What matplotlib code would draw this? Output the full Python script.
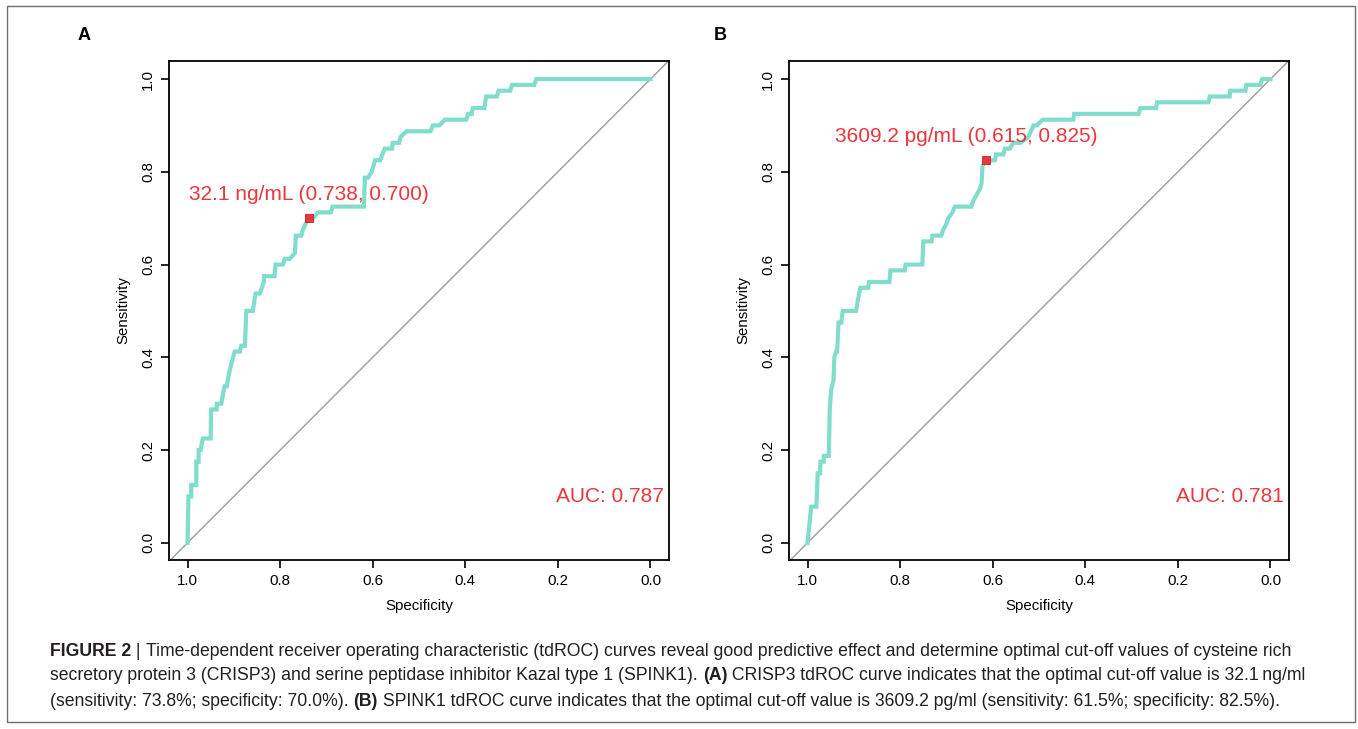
import matplotlib
matplotlib.use('Agg')
import matplotlib.pyplot as plt
from matplotlib.patches import Rectangle

plt.rcParams['font.family'] = ['Liberation Sans', 'DejaVu Sans']

# ---- data ----
# panel A: CRISP3 tdROC (specificity, sensitivity)
spec_a = [1.0, 0.998, 0.992, 0.992, 0.981, 0.981, 0.976, 0.976, 0.972, 0.967,
          0.950, 0.949, 0.937, 0.937, 0.927, 0.920, 0.915, 0.911, 0.905, 0.898,
          0.887, 0.884, 0.876, 0.873, 0.859, 0.853, 0.844, 0.835, 0.835, 0.812,
          0.810, 0.794, 0.790, 0.779, 0.768, 0.766, 0.754, 0.751, 0.745, 0.738,
          0.729, 0.718, 0.690, 0.687, 0.619, 0.617, 0.610, 0.602, 0.595, 0.584,
          0.574, 0.558, 0.557, 0.543, 0.540, 0.527, 0.475, 0.470, 0.456, 0.444,
          0.398, 0.394, 0.386, 0.384, 0.359, 0.355, 0.332, 0.328, 0.303, 0.299,
          0.251, 0.247, 0.0]
sens_a = [0.0, 0.1, 0.1, 0.125, 0.125, 0.175, 0.175, 0.2, 0.2, 0.225,
          0.225, 0.2875, 0.2875, 0.3, 0.3, 0.3375, 0.3375, 0.3625, 0.3875, 0.4125,
          0.4125, 0.425, 0.425, 0.5, 0.5, 0.5375, 0.5375, 0.5625, 0.575, 0.575,
          0.6, 0.6, 0.6125, 0.6125, 0.625, 0.6625, 0.6625, 0.675, 0.6875, 0.7,
          0.7, 0.7125, 0.7125, 0.725, 0.725, 0.7875, 0.7875, 0.8, 0.825, 0.825,
          0.85, 0.85, 0.8625, 0.8625, 0.875, 0.8875, 0.8875, 0.9, 0.9, 0.9125,
          0.9125, 0.925, 0.925, 0.9375, 0.9375, 0.9625, 0.9625, 0.975, 0.975, 0.9875,
          0.9875, 1.0, 1.0]

# panel B: SPINK1 tdROC
spec_b = [1.0, 0.992, 0.981, 0.980, 0.978, 0.973, 0.972, 0.965, 0.965, 0.954,
          0.952, 0.949, 0.944, 0.942, 0.938, 0.936, 0.933, 0.927, 0.924, 0.895,
          0.891, 0.886, 0.869, 0.867, 0.823, 0.821, 0.790, 0.788, 0.752, 0.750,
          0.732, 0.730, 0.711, 0.707, 0.700, 0.696, 0.687, 0.682, 0.646, 0.642,
          0.635, 0.628, 0.624, 0.622, 0.615, 0.595, 0.593, 0.577, 0.574, 0.563,
          0.556, 0.540, 0.523, 0.512, 0.505, 0.492, 0.426, 0.424, 0.285, 0.281,
          0.247, 0.245, 0.134, 0.131, 0.088, 0.087, 0.054, 0.052, 0.022, 0.018,
          0.0]
sens_b = [0.0, 0.078, 0.078, 0.1, 0.15, 0.15, 0.175, 0.175, 0.1875, 0.1875,
          0.2875, 0.33, 0.35, 0.4, 0.4125, 0.4125, 0.475, 0.475, 0.5, 0.5,
          0.525, 0.55, 0.55, 0.5625, 0.5625, 0.5875, 0.5875, 0.6, 0.6, 0.65,
          0.65, 0.6625, 0.6625, 0.675, 0.6875, 0.7, 0.7125, 0.725, 0.725, 0.7375,
          0.75, 0.7625, 0.775, 0.8125, 0.825, 0.825, 0.8375, 0.8375, 0.85, 0.85,
          0.8625, 0.8625, 0.875, 0.9, 0.9, 0.9125, 0.9125, 0.925, 0.925, 0.9375,
          0.9375, 0.95, 0.95, 0.9625, 0.9625, 0.975, 0.975, 0.9875, 0.9875, 1.0,
          1.0]

cut_a = (0.738, 0.700)
cut_b = (0.615, 0.825)
cut_text_a = '32.1 ng/mL (0.738, 0.700)'
cut_text_b = '3609.2 pg/mL (0.615, 0.825)'
auc_a = 0.787
auc_b = 0.781
ticks = [1.0, 0.8, 0.6, 0.4, 0.2, 0.0]
tick_labels = ['1.0', '0.8', '0.6', '0.4', '0.2', '0.0']

caption = [
    [('FIGURE 2', 'bold'), (' | ', 'normal'),
     ('Time-dependent receiver operating characteristic (tdROC) curves reveal good predictive effect and '
      'determine optimal cut-off values of cysteine rich', 'normal')],
    [('secretory protein 3 (CRISP3) and serine peptidase inhibitor Kazal type 1 (SPINK1). ', 'normal'),
     ('(A)', 'bold'),
     (' CRISP3 tdROC curve indicates that the optimal cut-off value is 32.1\u2009ng/ml', 'normal')],
    [('(sensitivity: 73.8%; specificity: 70.0%). ', 'normal'), ('(B)', 'bold'),
     (' SPINK1 tdROC curve indicates that the optimal cut-off value is 3609.2 pg/ml '
      '(sensitivity: 61.5%; specificity: 82.5%).', 'normal')],
]

CURVE = '#80ddcb'
RED = '#e8373d'
W, H = 1358, 729

fig = plt.figure(figsize=(W / 100, H / 100), dpi=100)

# outer frame of the figure
fig.patches.append(Rectangle((7 / W, 1 - 722 / H), 1348 / W, 716 / H, transform=fig.transFigure,
                             fill=False, edgecolor='#6e6e6e', linewidth=1.0))


def roc_panel(left, spec, sens, cut, cut_text, cut_dx, auc, letter, letter_x):
    ax = fig.add_axes([left / W, 1 - 560 / H, 500 / W, 499 / H])
    ax.plot(spec, sens, color=CURVE, linewidth=3.0, solid_joinstyle='miter', zorder=3)
    ax.axline((1, 0), (0, 1), color='#a3a3a3', linewidth=1.1, zorder=2)
    ax.plot([cut[0]], [cut[1]], marker='s', markersize=5.5, color=RED,
            markeredgecolor='#c81e24', markeredgewidth=0.6, zorder=4)
    ax.annotate(cut_text, xy=cut, xytext=(cut_dx, 24), textcoords='offset pixels',
                ha='center', va='center', color=RED, fontsize=15)
    ax.text(0.087, 0.1, f'AUC: {auc:.3f}', ha='center', va='center', color=RED, fontsize=15)
    ax.set_xlim(1.04, -0.04)
    ax.set_ylim(-0.037, 1.039)
    ax.set_xticks(ticks)
    ax.set_xticklabels(tick_labels)
    ax.set_yticks(ticks)
    ax.set_yticklabels(tick_labels, rotation=90, va='center')
    ax.tick_params(length=6, width=1.2, labelsize=10.8, pad=4, colors='black')
    for s in ax.spines.values():
        s.set_linewidth(1.3)
    ax.set_xlabel('Specificity', fontsize=10.8, labelpad=8)
    ax.set_ylabel('Sensitivity', fontsize=10.8, labelpad=8)
    fig.text(letter_x / W, 1 - 36 / H, letter, fontsize=13, fontweight='bold',
             ha='center', va='center')
    return ax


roc_panel(169, spec_a, sens_a, cut_a, cut_text_a, 0, auc_a, 'A', 84)
roc_panel(789, spec_b, sens_b, cut_b, cut_text_b, -20, auc_b, 'B', 720)

# caption, drawn segment by segment so the bold parts sit inline
renderer = fig.canvas.get_renderer()
cap_family = ['Liberation Sans Narrow', 'Liberation Sans', 'DejaVu Sans']


def draw_caption_line(line, y, size):
    x = 50
    items = []
    for txt, weight in line:
        t = fig.text(x / W, y, txt, fontsize=size, fontweight=weight, family=cap_family,
                     color='#231f20', ha='left', va='center')
        x += t.get_window_extent(renderer).width
        items.append(t)
    return x - 50, items


# size the caption so its first line spans the same width as in the figure
width0, probe = draw_caption_line(caption[0], 0.5, 12)
for t in probe:
    t.remove()
cap_size = 12 * 1247 / width0

for i, line in enumerate(caption):
    draw_caption_line(line, 1 - (651 + 25 * i) / H, cap_size)

fig.savefig('out.png', dpi=100)
